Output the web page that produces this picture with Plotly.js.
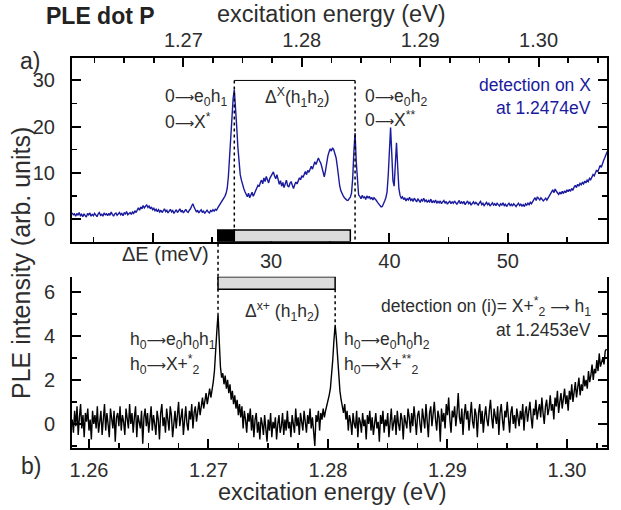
<!DOCTYPE html>
<html>
<head>
<meta charset="utf-8">
<script src="https://cdn.plot.ly/plotly-3.0.1.min.js"></script>
<style>
  html, body { margin: 0; padding: 0; background: #fff; }
  #chart { width: 621px; height: 510px; }
</style>
</head>
<body>
<div id="chart"></div>
<script>
// PLE spectra of quantum dot P, sampled every 0.1 meV of excitation energy.
const E_STEP = 0.0001;          // eV
const ENERGY_START_A = 1.2606;  // first sample, panel a (eV)
const ENERGY_START_B = 1.2586;  // first sample, panel b (eV)
const DETECTION_A = 1.2474;     // detection on X (eV)
const DETECTION_B = 1.2453;     // detection on X+*2 -> h1 (eV)

// panel a: detection on X (arb. units)
const intensityA = [
  1.3,0.9,1.1,0.6,1.2,0.8,1.4,0.7,1.0,0.5,
  1.1,0.8,0.4,1.2,0.9,1.3,0.6,1.0,0.7,1.2,
  0.9,0.5,1.1,1.4,0.8,1.0,0.6,1.3,0.9,1.1,
  0.7,1.2,0.8,1.5,1.0,0.6,1.1,1.3,0.8,1.0,
  1.4,0.9,1.2,0.7,1.3,1.1,1.6,0.9,1.2,1.4,
  1.0,1.5,1.2,1.8,1.4,2.0,2.4,1.9,2.6,2.2,
  2.9,2.4,2.7,3.1,2.5,2.8,2.2,2.6,2.0,2.3,
  1.8,2.1,1.6,2.0,1.5,1.9,1.4,1.8,2.2,1.6,
  1.9,1.3,1.7,2.1,1.5,1.8,1.2,1.6,2.0,1.4,
  1.7,2.2,1.5,1.9,1.3,1.8,2.1,1.6,1.4,1.9,
  2.2,2.8,3.3,2.6,1.8,1.5,1.9,1.3,1.7,2.0,
  1.4,1.8,1.2,1.6,1.9,1.5,1.3,1.8,1.6,2.0,
  1.7,2.1,1.9,2.4,2.8,3.1,3.5,4.0,4.5,4.9,
  5.5,6.6,9.2,13.8,18.2,22.5,26.1,28.0,24.8,20.1,
  15.6,12.2,9.6,8.4,7.3,6.6,5.9,5.3,4.8,5.6,
  4.6,5.2,5.8,4.9,5.4,6.1,6.7,7.3,7.0,7.9,
  8.4,7.6,8.9,8.1,9.2,8.5,7.8,8.8,9.4,9.9,
  10.2,9.3,8.7,9.6,8.2,7.5,8.3,7.1,7.9,6.8,
  7.6,8.4,7.2,6.9,7.7,8.1,7.3,6.6,7.4,8.0,
  7.6,8.3,8.9,8.5,9.4,9.0,9.8,10.3,9.6,10.5,
  10.1,10.9,11.4,10.8,11.9,12.4,11.8,12.8,13.2,12.6,
  12.1,11.2,9.8,9.1,10.4,12.3,13.6,14.5,15.2,14.7,
  15.4,15.0,14.3,13.2,11.4,9.1,7.2,6.1,5.4,5.0,
  4.6,4.3,4.1,4.0,4.3,4.7,5.6,8.8,14.6,18.6,
  12.4,7.3,5.2,4.9,4.4,5.1,4.6,4.8,4.2,5.0,
  4.5,4.9,4.3,4.7,4.1,4.6,4.4,4.0,3.6,3.3,
  2.9,2.6,2.7,3.2,3.9,4.6,5.8,9.4,15.2,19.8,
  14.1,8.3,7.1,11.2,16.5,11.3,6.6,5.1,4.5,4.8,
  4.2,4.6,3.9,4.4,4.1,4.7,4.0,4.3,3.8,4.5,
  4.1,3.7,4.4,4.0,3.6,4.2,3.9,4.5,3.8,4.1,
  3.6,4.0,3.7,4.3,3.5,3.9,3.6,4.1,3.4,3.8,
  3.5,3.9,3.3,3.7,4.0,3.4,3.8,3.2,3.6,3.9,
  3.3,3.7,3.4,3.9,3.5,3.2,3.6,4.0,3.3,3.7,
  3.4,3.8,3.1,3.5,3.9,3.3,3.6,3.0,3.4,3.7,
  3.2,3.6,3.3,3.0,3.5,3.8,3.1,3.4,2.9,3.3,
  3.6,3.1,3.4,2.8,3.2,3.5,3.0,3.3,2.9,3.4,
  3.1,2.8,3.3,3.0,3.5,2.9,3.2,2.7,3.1,3.4,
  2.9,3.2,2.8,3.3,3.0,2.7,3.1,3.4,2.9,3.2,
  2.8,3.1,2.7,3.3,3.0,3.4,3.1,3.6,3.3,3.9,
  4.2,4.6,4.0,4.8,4.4,4.1,4.6,4.3,3.9,4.2,
  4.5,4.1,4.6,4.9,5.4,5.9,6.3,5.7,6.5,6.0,
  5.6,5.3,5.8,5.4,6.0,5.5,6.1,5.7,6.3,5.9,
  6.4,6.0,6.6,6.2,6.9,7.3,6.8,7.5,7.1,7.7,
  7.4,7.9,7.6,8.2,7.8,8.4,8.1,8.8,8.5,9.2,
  9.6,9.3,10.1,10.6,10.2,11.0,11.6,11.2,12.1,12.7,
  13.3,13.9,14.6
];

// panel b: detection on X+*2 -> h1 (arb. units)
const intensityB = [
  0.2,-0.4,0.6,-0.1,0.8,-0.5,0.3,0.9,-0.2,0.4,
  -0.6,0.5,0.1,0.7,-0.3,0.2,-0.7,0.6,0.0,0.4,
  -0.2,0.8,-0.4,0.3,0.6,-0.5,0.1,0.9,-0.3,0.5,
  0.0,-0.6,0.7,0.2,-0.2,0.6,-0.8,0.3,0.5,-0.1,
  0.8,-0.3,0.4,0.1,-0.5,0.7,0.2,-0.2,0.9,0.0,
  0.5,-0.4,0.3,0.8,-0.6,0.4,0.1,-0.2,0.6,-0.9,
  0.3,0.7,-0.1,0.5,-0.4,0.2,0.8,-0.3,0.4,0.0,
  -0.5,0.6,0.2,-0.7,0.5,0.9,-0.1,0.3,-0.4,0.7,
  0.1,-0.3,0.8,0.4,-0.6,0.2,0.6,-0.2,0.5,1.0,
  -0.1,0.4,0.7,-0.5,0.3,0.8,0.0,-0.3,0.6,0.2,
  0.9,-0.2,0.5,0.8,0.1,0.6,1.0,0.4,0.9,1.2,
  0.7,1.1,1.4,0.9,1.3,1.6,1.2,1.5,1.9,2.4,
  3.1,4.2,5.0,3.7,2.6,2.1,2.3,1.8,2.2,1.6,
  2.0,1.4,1.8,1.1,1.5,0.9,1.3,0.7,1.1,0.4,
  0.9,0.3,0.8,-0.2,0.6,0.2,-0.4,0.5,0.1,0.7,
  -0.3,0.4,-0.6,0.2,0.5,-0.4,0.1,-0.7,0.3,0.0,
  -0.5,0.4,-0.2,-0.8,0.2,-0.3,0.5,-0.6,0.1,-0.2,
  0.3,-0.7,0.0,0.4,-0.4,-0.1,0.5,-0.5,0.2,-0.3,
  0.6,-0.2,0.1,-0.6,0.4,0.0,-0.4,0.7,-0.1,0.3,
  -0.5,0.5,0.1,-0.3,0.6,0.2,-0.4,0.4,0.0,0.7,
  -0.2,0.3,-0.6,-1.0,0.4,0.1,0.6,-0.3,0.5,0.2,
  0.7,0.3,0.6,0.8,1.0,1.3,1.6,2.1,2.9,3.8,
  4.5,3.9,2.9,2.1,1.5,1.1,0.8,0.5,0.9,0.2,
  0.6,-0.3,0.4,0.1,-0.5,0.5,0.0,-0.2,0.6,-0.6,
  0.3,0.1,-0.4,0.5,-0.1,0.2,-0.7,0.4,0.0,0.6,
  -0.3,0.3,-0.5,0.2,0.5,-0.2,0.1,-0.8,0.4,0.0,
  0.6,-0.4,0.2,-0.1,0.5,-0.6,0.3,0.7,-0.3,0.1,
  0.4,-0.5,0.6,0.0,-0.3,0.5,0.2,-0.7,0.4,0.1,
  -0.2,0.7,0.3,-0.4,0.5,-0.1,0.8,0.2,-0.5,0.4,
  0.6,0.0,-0.4,0.7,0.3,-0.2,0.9,0.1,-0.6,0.5,
  0.8,-0.1,0.4,1.0,0.2,-0.3,0.6,0.3,-0.8,0.7,
  0.1,0.5,-0.2,0.9,0.4,1.2,0.2,-0.4,0.6,0.3,
  0.8,-0.1,0.5,1.4,0.3,0.0,0.7,-0.5,0.4,0.9,
  0.2,0.6,-0.3,0.5,1.0,0.1,-0.2,0.7,0.4,-0.6,
  0.5,0.9,0.0,0.6,-0.4,0.3,0.8,0.2,-0.1,0.6,
  1.1,0.3,-0.2,0.7,0.4,0.0,0.8,-0.5,0.5,0.9,
  0.2,-0.3,0.6,0.3,1.0,0.1,-0.4,0.5,0.8,0.0,
  0.4,-0.2,0.7,0.3,-0.1,0.6,0.2,0.9,-0.3,0.5,
  0.8,0.1,0.6,1.0,0.3,-0.2,0.7,0.4,1.1,0.2,
  0.6,0.9,0.3,1.2,0.5,0.0,0.8,1.1,0.4,0.7,
  1.3,0.6,0.9,0.2,1.2,0.8,1.5,0.5,1.0,1.4,
  0.7,1.2,1.6,0.9,1.3,0.6,1.5,1.1,1.8,1.0,
  1.4,1.9,1.2,1.6,2.1,1.3,1.8,1.5,2.2,1.7,
  2.0,1.6,2.4,1.9,2.2,2.7,2.0,2.5,2.3,2.9,
  2.4,3.2,2.6,2.8,3.0,2.7,3.3,3.4
];

// resonance energies (eV)
const PEAKS_A = [1.2743, 1.2845];   // 0 -> X*, 0 -> X**
const PEAKS_B = [1.2708, 1.2806];   // h0 -> X+*2, h0 -> X+**2

// tick labels
const energyTicks = [1.26, 1.27, 1.28, 1.29, 1.30];
const deltaTicks = [20, 30, 40, 50];
const deltaTickText = ['', '30', '40', '50'];

// axis windows (eV)
const RANGE_A = [1.26059, 1.30578];
const RANGE_B = [1.25858, 1.30335];

const energyA = intensityA.map((_, i) => +(ENERGY_START_A + i * E_STEP).toFixed(4));
const energyB = intensityB.map((_, i) => +(ENERGY_START_B + i * E_STEP).toFixed(4));
const toMeV = (e, det) => (e - det) * 1000;
const valueAt = (energies, values, e) =>
  values[energies.findIndex(v => Math.abs(v - e) < E_STEP / 2)];

// page geometry
const W = 621, H = 510, ML = 72, MR = 14, MT = 58, MB = 62;
const px = x => (x - ML) / (W - ML - MR);
const py = y => (H - MB - y) / (H - MT - MB);
const DOMAIN_A = [0.529, 1];
const DOMAIN_B = [0, 0.4392];
const Y_RANGE_A = [-4.92, 34.86];
const Y_RANGE_B = [-1.09, 6.68];

const FONT = 'Liberation Sans, Arial, Helvetica, sans-serif';
const INK = '#2d2d2d';
const BLUE = '#1a1a9e';
const ARROW = '<span style="font-family:\'DejaVu Sans\';font-size:13.5px">⟶</span>';

const frame = {
  showline: true, linecolor: '#000', linewidth: 2,
  ticks: 'inside', ticklen: 9, tickwidth: 2, tickcolor: '#000',
  showgrid: false, zeroline: false,
  tickfont: { family: FONT, size: 20, color: INK },
};
const minorTicks = (dtick, tick0) => ({
  ticks: 'inside', ticklen: 5, tickwidth: 1.5, tickcolor: '#000',
  dtick: dtick, tick0: tick0, showgrid: false,
});

const traces = [
  { x: energyA, y: intensityA, xaxis: 'x', yaxis: 'y', type: 'scatter', mode: 'lines',
    line: { color: BLUE, width: 1.4 }, hoverinfo: 'skip', showlegend: false },
  { x: energyB, y: intensityB, xaxis: 'x3', yaxis: 'y2', type: 'scatter', mode: 'lines',
    line: { color: '#000', width: 1.4 }, hoverinfo: 'skip', showlegend: false },
];

// splittings in meV from the detection energy
const dA0 = toMeV(PEAKS_A[0], DETECTION_A);
const dA1 = toMeV(PEAKS_A[1], DETECTION_A);
const dB0 = toMeV(PEAKS_B[0], DETECTION_B);
const dB1 = toMeV(PEAKS_B[1], DETECTION_B);
const BRACKET_LEVEL = 30;
const BAR_TOP_A = -2.4;
const BAR_BOTTOM_B = 6.11;

const dotted = { color: '#000', width: 1.5, dash: 'dot' };
const shapes = [
  // panel a: Δ^X bracket and comparison bar
  { type: 'line', xref: 'x2', yref: 'y', x0: dA0, x1: dA1, y0: BRACKET_LEVEL, y1: BRACKET_LEVEL,
    line: { color: '#000', width: 1 } },
  { type: 'line', xref: 'x2', yref: 'y', x0: dA0, x1: dA0, y0: BRACKET_LEVEL, y1: Y_RANGE_A[0], line: dotted },
  { type: 'line', xref: 'x2', yref: 'y', x0: dA1, x1: dA1, y0: BRACKET_LEVEL, y1: Y_RANGE_A[0], line: dotted },
  { type: 'rect', xref: 'x2', yref: 'y', x0: dB0, x1: dA0, y0: Y_RANGE_A[0], y1: BAR_TOP_A,
    fillcolor: '#000', line: { color: '#000', width: 1.5 } },
  { type: 'rect', xref: 'x2', yref: 'y', x0: dA0, x1: dA0 + (dB1 - dB0), y0: Y_RANGE_A[0], y1: BAR_TOP_A,
    fillcolor: '#dcdcdc', line: { color: '#000', width: 1.5 } },
  // panel b: Δ^X+ bar and guides
  { type: 'line', xref: 'x3', yref: 'paper', x0: PEAKS_B[0], x1: PEAKS_B[0], y0: DOMAIN_B[1], y1: DOMAIN_A[0], line: dotted },
  { type: 'line', xref: 'x3', yref: 'y2', x0: PEAKS_B[0], x1: PEAKS_B[0], y0: Y_RANGE_B[1],
    y1: valueAt(energyB, intensityB, PEAKS_B[0]), line: dotted },
  { type: 'line', xref: 'x3', yref: 'y2', x0: PEAKS_B[1], x1: PEAKS_B[1], y0: BAR_BOTTOM_B,
    y1: valueAt(energyB, intensityB, PEAKS_B[1]), line: dotted },
  { type: 'rect', xref: 'x3', yref: 'y2', x0: PEAKS_B[0], x1: PEAKS_B[1], y0: BAR_BOTTOM_B, y1: Y_RANGE_B[1],
    fillcolor: '#dcdcdc', line: { color: '#000', width: 1.5 } },
];

function label(text, x, y, opts) {
  const o = opts || {};
  return {
    text: text, xref: 'paper', yref: 'paper', x: px(x), y: py(y),
    xanchor: o.xanchor || 'left', yanchor: 'middle', showarrow: false,
    textangle: o.angle || 0, borderpad: 0,
    font: { family: FONT, size: o.size || 17.5, color: o.color || INK },
  };
}

const annotations = [
  label('<b>PLE dot P</b>', 45, 16, { size: 23, color: '#222' }),
  label('excitation energy (eV)', 331, 14, { xanchor: 'center', size: 23.5 }),
  label('excitation energy (eV)', 332, 492, { xanchor: 'center', size: 23.5 }),
  label('PLE intensity (arb. units)', 21, 263, { xanchor: 'center', size: 25, angle: -90 }),
  label('a)', 19, 61, { size: 23 }),
  label('b)', 20, 466, { size: 23 }),
  label('ΔE (meV)', 210, 254, { xanchor: 'right', size: 20 }),

  label('0' + ARROW + 'e<sub>0</sub>h<sub>1</sub>', 164, 97),
  label('0' + ARROW + 'X<sup>*</sup>', 164, 121),
  label('Δ<sup>X</sup>(h<sub>1</sub>h<sub>2</sub>)', 297, 97, { xanchor: 'center' }),
  label('0' + ARROW + 'e<sub>0</sub>h<sub>2</sub>', 364, 97),
  label('0' + ARROW + 'X<sup>**</sup>', 364, 119),
  label('detection on X', 592, 85, { xanchor: 'right', color: BLUE }),
  label('at 1.2474eV', 592, 108, { xanchor: 'right', color: BLUE }),

  label('Δ<sup>x+</sup> (h<sub>1</sub>h<sub>2</sub>)', 282, 311, { xanchor: 'center' }),
  label('detection on (i)= X+<sup>*</sup><sub>2</sub> ' + ARROW + ' h<sub>1</sub>', 592, 306, { xanchor: 'right' }),
  label('at 1.2453eV', 592, 330, { xanchor: 'right' }),

  label('h<sub>0</sub>' + ARROW + 'e<sub>0</sub>h<sub>0</sub>h<sub>1</sub>', 129, 340),
  label('h<sub>0</sub>' + ARROW + 'X+<sup>*</sup><sub>2</sub>', 129, 364),
  label('h<sub>0</sub>' + ARROW + 'e<sub>0</sub>h<sub>0</sub>h<sub>2</sub>', 343, 340),
  label('h<sub>0</sub>' + ARROW + 'X+<sup>**</sup><sub>2</sub>', 343, 364),
];

const layout = {
  width: W, height: H,
  margin: { l: ML, r: MR, t: MT, b: MB, pad: 0 },
  paper_bgcolor: '#fff', plot_bgcolor: 'rgba(0,0,0,0)',
  font: { family: FONT, color: INK },
  showlegend: false,
  xaxis: Object.assign({}, frame, {
    anchor: 'y', side: 'top', range: RANGE_A,
    tickmode: 'array', tickvals: energyTicks, ticktext: energyTicks.map(v => v.toFixed(2)),
    minor: minorTicks(0.0025, 1.26), ticklabelstandoff: 1,
  }),
  xaxis2: Object.assign({}, frame, {
    anchor: 'y', side: 'bottom', overlaying: 'x',
    range: RANGE_A.map(e => toMeV(e, DETECTION_A)),
    tickmode: 'array', tickvals: deltaTicks, ticktext: deltaTickText,
    minor: minorTicks(5, 0), ticklabelstandoff: 0,
  }),
  yaxis: Object.assign({}, frame, {
    anchor: 'x', domain: DOMAIN_A, range: Y_RANGE_A, mirror: 'ticks',
    tickmode: 'array', tickvals: [0, 10, 20, 30],
    minor: minorTicks(5, 0), ticklabelstandoff: 11,
  }),
  xaxis3: Object.assign({}, frame, {
    anchor: 'y2', side: 'bottom', range: RANGE_B,
    tickmode: 'array', tickvals: energyTicks, ticktext: energyTicks.map(v => v.toFixed(2)),
    minor: minorTicks(0.0025, 1.26), ticklabelstandoff: 3,
  }),
  xaxis4: Object.assign({}, frame, {
    anchor: 'y2', side: 'top', overlaying: 'x3',
    range: RANGE_B.map(e => toMeV(e, DETECTION_B)),
    tickmode: 'array', tickvals: deltaTicks, showticklabels: false,
    minor: minorTicks(5, 0),
  }),
  yaxis2: Object.assign({}, frame, {
    anchor: 'x3', domain: DOMAIN_B, range: Y_RANGE_B, mirror: 'ticks',
    tickmode: 'array', tickvals: [0, 2, 4, 6],
    minor: minorTicks(1, 0), ticklabelstandoff: 11,
  }),
  shapes: shapes,
  annotations: annotations,
};

Plotly.newPlot('chart', traces, layout, { displayModeBar: false, staticPlot: true });
</script>
</body>
</html>
